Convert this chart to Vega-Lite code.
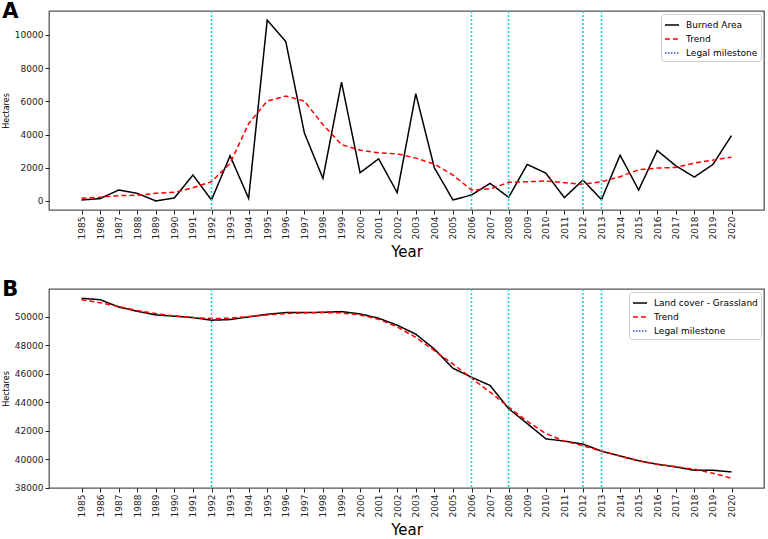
{
  "$schema": "https://vega.github.io/schema/vega-lite/v6.json",
  "padding": {"left": 1, "top": 0, "right": 2, "bottom": 0},
  "config": {
    "font": "DejaVu Sans",
    "view": {"stroke": "#555", "strokeWidth": 1.3},
    "axis": {"grid": false, "domain": false, "tickColor": "#222", "labelColor": "#222", "labelFont": "DejaVu Sans", "labelFontSize": 9, "tickSize": 4, "labelPadding": 2, "labelOverlap": false, "titleFont": "DejaVu Sans", "titleFontWeight": "normal", "titleColor": "#000"},
    "legend": {"symbolType": "stroke", "symbolStrokeWidth": 1.5, "symbolSize": 200, "labelFontSize": 9, "labelFont": "DejaVu Sans", "labelColor": "#000", "padding": 3, "rowPadding": 1, "strokeColor": "#cccccc", "fillColor": "white", "cornerRadius": 3, "offset": 3, "labelOffset": 6},
    "title": {"fontSize": 21, "fontWeight": "bold", "anchor": "start", "frame": "bounds", "offset": -12, "color": "#000", "font": "DejaVu Sans"}
  },
  "datasets": {
    "milestones": [{"Year": 1992}, {"Year": 2006}, {"Year": 2008}, {"Year": 2012}, {"Year": 2013}],
    "burned": [
      {"Year": 1985, "series": "Burned Area", "value": 60},
      {"Year": 1986, "series": "Burned Area", "value": 140},
      {"Year": 1987, "series": "Burned Area", "value": 660},
      {"Year": 1988, "series": "Burned Area", "value": 460},
      {"Year": 1989, "series": "Burned Area", "value": 0},
      {"Year": 1990, "series": "Burned Area", "value": 180},
      {"Year": 1991, "series": "Burned Area", "value": 1560},
      {"Year": 1992, "series": "Burned Area", "value": 60},
      {"Year": 1993, "series": "Burned Area", "value": 2720},
      {"Year": 1994, "series": "Burned Area", "value": 160},
      {"Year": 1995, "series": "Burned Area", "value": 10900},
      {"Year": 1996, "series": "Burned Area", "value": 9600},
      {"Year": 1997, "series": "Burned Area", "value": 4100},
      {"Year": 1998, "series": "Burned Area", "value": 1360},
      {"Year": 1999, "series": "Burned Area", "value": 7160},
      {"Year": 2000, "series": "Burned Area", "value": 1700},
      {"Year": 2001, "series": "Burned Area", "value": 2540},
      {"Year": 2002, "series": "Burned Area", "value": 500},
      {"Year": 2003, "series": "Burned Area", "value": 6460},
      {"Year": 2004, "series": "Burned Area", "value": 2000},
      {"Year": 2005, "series": "Burned Area", "value": 60},
      {"Year": 2006, "series": "Burned Area", "value": 360},
      {"Year": 2007, "series": "Burned Area", "value": 1060},
      {"Year": 2008, "series": "Burned Area", "value": 220},
      {"Year": 2009, "series": "Burned Area", "value": 2200},
      {"Year": 2010, "series": "Burned Area", "value": 1680},
      {"Year": 2011, "series": "Burned Area", "value": 200},
      {"Year": 2012, "series": "Burned Area", "value": 1260},
      {"Year": 2013, "series": "Burned Area", "value": 80},
      {"Year": 2014, "series": "Burned Area", "value": 2760},
      {"Year": 2015, "series": "Burned Area", "value": 660},
      {"Year": 2016, "series": "Burned Area", "value": 3040},
      {"Year": 2017, "series": "Burned Area", "value": 2120},
      {"Year": 2018, "series": "Burned Area", "value": 1440},
      {"Year": 2019, "series": "Burned Area", "value": 2200},
      {"Year": 2020, "series": "Burned Area", "value": 3940},
      {"Year": 1985, "series": "Trend", "value": 160},
      {"Year": 1986, "series": "Trend", "value": 220},
      {"Year": 1987, "series": "Trend", "value": 320},
      {"Year": 1988, "series": "Trend", "value": 340},
      {"Year": 1989, "series": "Trend", "value": 460},
      {"Year": 1990, "series": "Trend", "value": 520},
      {"Year": 1991, "series": "Trend", "value": 800},
      {"Year": 1992, "series": "Trend", "value": 1160},
      {"Year": 1993, "series": "Trend", "value": 2260},
      {"Year": 1994, "series": "Trend", "value": 4660},
      {"Year": 1995, "series": "Trend", "value": 6020},
      {"Year": 1996, "series": "Trend", "value": 6320},
      {"Year": 1997, "series": "Trend", "value": 6020},
      {"Year": 1998, "series": "Trend", "value": 4600},
      {"Year": 1999, "series": "Trend", "value": 3400},
      {"Year": 2000, "series": "Trend", "value": 3060},
      {"Year": 2001, "series": "Trend", "value": 2900},
      {"Year": 2002, "series": "Trend", "value": 2840},
      {"Year": 2003, "series": "Trend", "value": 2580},
      {"Year": 2004, "series": "Trend", "value": 2220},
      {"Year": 2005, "series": "Trend", "value": 1560},
      {"Year": 2006, "series": "Trend", "value": 660},
      {"Year": 2007, "series": "Trend", "value": 720},
      {"Year": 2008, "series": "Trend", "value": 1120},
      {"Year": 2009, "series": "Trend", "value": 1160},
      {"Year": 2010, "series": "Trend", "value": 1200},
      {"Year": 2011, "series": "Trend", "value": 1100},
      {"Year": 2012, "series": "Trend", "value": 1000},
      {"Year": 2013, "series": "Trend", "value": 1160},
      {"Year": 2014, "series": "Trend", "value": 1460},
      {"Year": 2015, "series": "Trend", "value": 1880},
      {"Year": 2016, "series": "Trend", "value": 1980},
      {"Year": 2017, "series": "Trend", "value": 2020},
      {"Year": 2018, "series": "Trend", "value": 2280},
      {"Year": 2019, "series": "Trend", "value": 2460},
      {"Year": 2020, "series": "Trend", "value": 2640}
    ],
    "grass": [
      {"Year": 1985, "series": "Land cover - Grassland", "value": 51280},
      {"Year": 1986, "series": "Land cover - Grassland", "value": 51186},
      {"Year": 1987, "series": "Land cover - Grassland", "value": 50674},
      {"Year": 1988, "series": "Land cover - Grassland", "value": 50372},
      {"Year": 1989, "series": "Land cover - Grassland", "value": 50116},
      {"Year": 1990, "series": "Land cover - Grassland", "value": 50023},
      {"Year": 1991, "series": "Land cover - Grassland", "value": 49930},
      {"Year": 1992, "series": "Land cover - Grassland", "value": 49744},
      {"Year": 1993, "series": "Land cover - Grassland", "value": 49790},
      {"Year": 1994, "series": "Land cover - Grassland", "value": 49977},
      {"Year": 1995, "series": "Land cover - Grassland", "value": 50163},
      {"Year": 1996, "series": "Land cover - Grassland", "value": 50279},
      {"Year": 1997, "series": "Land cover - Grassland", "value": 50279},
      {"Year": 1998, "series": "Land cover - Grassland", "value": 50302},
      {"Year": 1999, "series": "Land cover - Grassland", "value": 50349},
      {"Year": 2000, "series": "Land cover - Grassland", "value": 50186},
      {"Year": 2001, "series": "Land cover - Grassland", "value": 49884},
      {"Year": 2002, "series": "Land cover - Grassland", "value": 49395},
      {"Year": 2003, "series": "Land cover - Grassland", "value": 48767},
      {"Year": 2004, "series": "Land cover - Grassland", "value": 47721},
      {"Year": 2005, "series": "Land cover - Grassland", "value": 46372},
      {"Year": 2006, "series": "Land cover - Grassland", "value": 45744},
      {"Year": 2007, "series": "Land cover - Grassland", "value": 45163},
      {"Year": 2008, "series": "Land cover - Grassland", "value": 43535},
      {"Year": 2009, "series": "Land cover - Grassland", "value": 42488},
      {"Year": 2010, "series": "Land cover - Grassland", "value": 41419},
      {"Year": 2011, "series": "Land cover - Grassland", "value": 41256},
      {"Year": 2012, "series": "Land cover - Grassland", "value": 41047},
      {"Year": 2013, "series": "Land cover - Grassland", "value": 40558},
      {"Year": 2014, "series": "Land cover - Grassland", "value": 40209},
      {"Year": 2015, "series": "Land cover - Grassland", "value": 39884},
      {"Year": 2016, "series": "Land cover - Grassland", "value": 39628},
      {"Year": 2017, "series": "Land cover - Grassland", "value": 39442},
      {"Year": 2018, "series": "Land cover - Grassland", "value": 39209},
      {"Year": 2019, "series": "Land cover - Grassland", "value": 39209},
      {"Year": 2020, "series": "Land cover - Grassland", "value": 39093},
      {"Year": 1985, "series": "Trend", "value": 51186},
      {"Year": 1986, "series": "Trend", "value": 50977},
      {"Year": 1987, "series": "Trend", "value": 50700},
      {"Year": 1988, "series": "Trend", "value": 50420},
      {"Year": 1989, "series": "Trend", "value": 50209},
      {"Year": 1990, "series": "Trend", "value": 50046},
      {"Year": 1991, "series": "Trend", "value": 49930},
      {"Year": 1992, "series": "Trend", "value": 49860},
      {"Year": 1993, "series": "Trend", "value": 49884},
      {"Year": 1994, "series": "Trend", "value": 50000},
      {"Year": 1995, "series": "Trend", "value": 50116},
      {"Year": 1996, "series": "Trend", "value": 50209},
      {"Year": 1997, "series": "Trend", "value": 50256},
      {"Year": 1998, "series": "Trend", "value": 50279},
      {"Year": 1999, "series": "Trend", "value": 50256},
      {"Year": 2000, "series": "Trend", "value": 50116},
      {"Year": 2001, "series": "Trend", "value": 49814},
      {"Year": 2002, "series": "Trend", "value": 49279},
      {"Year": 2003, "series": "Trend", "value": 48535},
      {"Year": 2004, "series": "Trend", "value": 47605},
      {"Year": 2005, "series": "Trend", "value": 46674},
      {"Year": 2006, "series": "Trend", "value": 45674},
      {"Year": 2007, "series": "Trend", "value": 44698},
      {"Year": 2008, "series": "Trend", "value": 43651},
      {"Year": 2009, "series": "Trend", "value": 42651},
      {"Year": 2010, "series": "Trend", "value": 41791},
      {"Year": 2011, "series": "Trend", "value": 41256},
      {"Year": 2012, "series": "Trend", "value": 40930},
      {"Year": 2013, "series": "Trend", "value": 40558},
      {"Year": 2014, "series": "Trend", "value": 40209},
      {"Year": 2015, "series": "Trend", "value": 39860},
      {"Year": 2016, "series": "Trend", "value": 39628},
      {"Year": 2017, "series": "Trend", "value": 39465},
      {"Year": 2018, "series": "Trend", "value": 39279},
      {"Year": 2019, "series": "Trend", "value": 39000},
      {"Year": 2020, "series": "Trend", "value": 38651}
    ]
  },
  "spacing": 17,
  "resolve": {"scale": {"color": "independent", "strokeDash": "independent", "x": "independent", "y": "independent"}},
  "vconcat": [
    {
      "width": 715,
      "height": 199,
      "title": {"text": "A"},
      "layer": [
        {
          "data": {"name": "burned"},
          "mark": {"type": "line", "strokeWidth": 1.5},
          "encoding": {
            "x": {"field": "Year", "type": "quantitative", "scale": {"domain": [1983.25, 2021.75], "nice": false, "zero": false},
                  "axis": {"values": [1985,1986,1987,1988,1989,1990,1991,1992,1993,1994,1995,1996,1997,1998,1999,2000,2001,2002,2003,2004,2005,2006,2007,2008,2009,2010,2011,2012,2013,2014,2015,2016,2017,2018,2019,2020], "tickCount": 40, "format": "d", "labelAngle": 270, "labelOverlap": false, "labelFlush": false, "title": "Year", "titleFontSize": 15, "titlePadding": 6}},
            "y": {"field": "value", "type": "quantitative", "scale": {"domain": [-545, 11445], "nice": false, "zero": false},
                  "axis": {"values": [0, 2000, 4000, 6000, 8000, 10000], "format": "d", "title": "Hectares", "titleFontSize": 8, "titlePadding": 4}},
            "color": {"field": "series", "type": "nominal", "scale": {"domain": ["Burned Area", "Trend", "Legal milestone"], "range": ["#000000", "#ff0000", "#3344cc"]}, "legend": {"title": null, "orient": "top-right"}},
            "strokeDash": {"field": "series", "type": "nominal", "scale": {"domain": ["Burned Area", "Trend", "Legal milestone"], "range": [[1, 0], [5, 3], [1.5, 1.5]]}, "legend": {"title": null, "orient": "top-right"}}
          }
        },
        {
          "data": {"name": "milestones"},
          "mark": {"type": "rule", "color": "#1dd0c2", "strokeDash": [2, 2], "strokeWidth": 1.5},
          "encoding": {"x": {"field": "Year", "type": "quantitative"}}
        }
      ]
    },
    {
      "width": 715,
      "height": 199,
      "title": {"text": "B"},
      "layer": [
        {
          "data": {"name": "grass"},
          "mark": {"type": "line", "strokeWidth": 1.5},
          "encoding": {
            "x": {"field": "Year", "type": "quantitative", "scale": {"domain": [1983.25, 2021.75], "nice": false, "zero": false},
                  "axis": {"values": [1985,1986,1987,1988,1989,1990,1991,1992,1993,1994,1995,1996,1997,1998,1999,2000,2001,2002,2003,2004,2005,2006,2007,2008,2009,2010,2011,2012,2013,2014,2015,2016,2017,2018,2019,2020], "tickCount": 40, "format": "d", "labelAngle": 270, "labelOverlap": false, "labelFlush": false, "title": "Year", "titleFontSize": 15, "titlePadding": 6}},
            "y": {"field": "value", "type": "quantitative", "scale": {"domain": [37965, 51935], "nice": false, "zero": false},
                  "axis": {"values": [38000, 40000, 42000, 44000, 46000, 48000, 50000], "format": "d", "title": "Hectares", "titleFontSize": 8, "titlePadding": 4}},
            "color": {"field": "series", "type": "nominal", "scale": {"domain": ["Land cover - Grassland", "Trend", "Legal milestone"], "range": ["#000000", "#ff0000", "#3344cc"]}, "legend": {"title": null, "orient": "top-right"}},
            "strokeDash": {"field": "series", "type": "nominal", "scale": {"domain": ["Land cover - Grassland", "Trend", "Legal milestone"], "range": [[1, 0], [5, 3], [1.5, 1.5]]}, "legend": {"title": null, "orient": "top-right"}}
          }
        },
        {
          "data": {"name": "milestones"},
          "mark": {"type": "rule", "color": "#1dd0c2", "strokeDash": [2, 2], "strokeWidth": 1.5},
          "encoding": {"x": {"field": "Year", "type": "quantitative"}}
        }
      ]
    }
  ]
}
